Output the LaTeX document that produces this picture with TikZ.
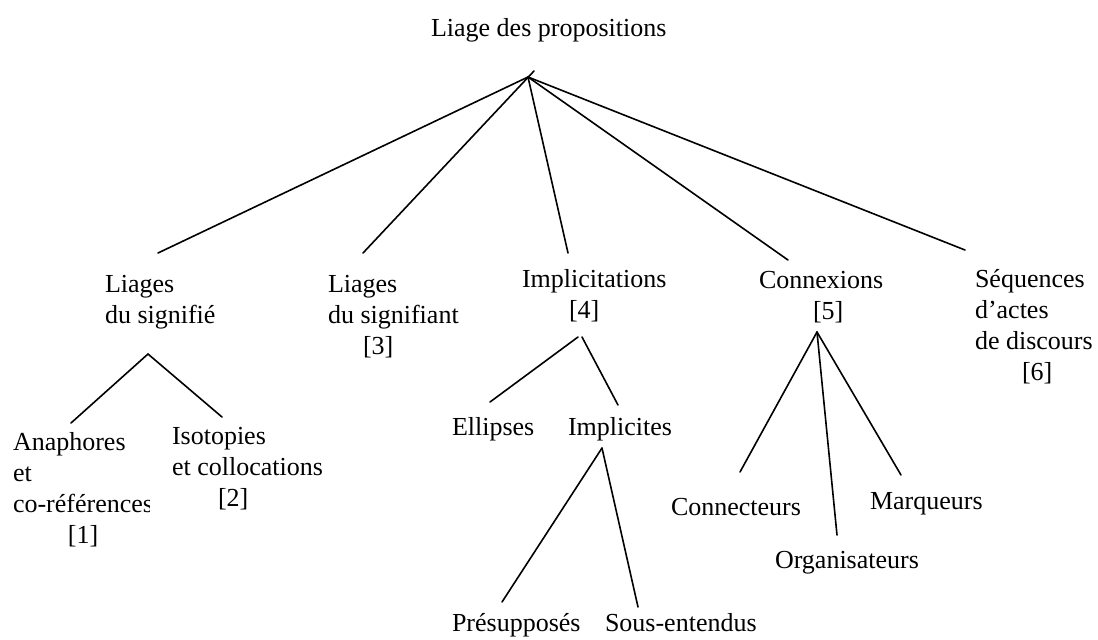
\documentclass[tikz,border=0pt]{standalone}
\usepackage{fontspec}
\setmainfont{Liberation Serif}
\begin{document}
\begin{tikzpicture}[x=0.5pt,y=-0.5pt,
  lbl/.style={inner sep=0pt,outer sep=0pt,anchor=base west,
    font=\fontsize{13}{15.5}\selectfont},
  branch/.style={line width=0.8pt,line cap=round}]
\useasboundingbox (0,0) rectangle (1098,639);

% labels
\node[lbl] (root) at (431,36) {Liage des propositions};
\node[lbl] (sig) at (105,292) {\begin{tabular}[t]{@{}l@{}}Liages\\du signifié\end{tabular}};
\node[lbl] (sigt) at (328,292) {\begin{tabular}[t]{@{}l@{}}Liages\\du signifiant\\\hspace*{17.5pt}[3]\end{tabular}};
\node[lbl] (impl) at (522,287) {\begin{tabular}[t]{@{}l@{}}Implicitations\\\hspace*{23.5pt}[4]\end{tabular}};
\node[lbl] (conn) at (759,288) {\begin{tabular}[t]{@{}l@{}}Connexions\\\hspace*{27pt}[5]\end{tabular}};
\node[lbl] (seq) at (975,287) {\begin{tabular}[t]{@{}l@{}}Séquences\\d’actes\\de discours\\\hspace*{23.5pt}[6]\end{tabular}};
\begin{scope}
  % the last letter of this label is cut by its text frame
  \clip (0,400) rectangle (149,600);
  \node[lbl] (ana) at (13,450) {\begin{tabular}[t]{@{}l@{}}Anaphores\\et\\co-références\\\hspace*{27.5pt}[1]\end{tabular}};
\end{scope}
\node[lbl] (iso) at (172,444) {\begin{tabular}[t]{@{}l@{}}Isotopies\\et collocations\\\hspace*{23pt}[2]\end{tabular}};
\node[lbl] (ell) at (452,435) {Ellipses};
\node[lbl] (impc) at (568,435) {Implicites};
\node[lbl] (pre) at (452,631) {Présupposés};
\node[lbl] (sous) at (605,631) {Sous-entendus};
\node[lbl] (cnt) at (671,515) {Connecteurs};
\node[lbl] (org) at (775,568) {Organisateurs};
\node[lbl] (mar) at (870,509) {Marqueurs};

% branch points and branch ends
\coordinate (rootapex) at (528,77);
\coordinate (roottick) at (534,71);
\coordinate (sigtop) at (158,253);
\coordinate (sigttop) at (363,253);
\coordinate (impltop) at (568,253);
\coordinate (conntop) at (788,260);
\coordinate (seqtop) at (965,250);

\coordinate (sigapex) at (148,354);
\coordinate (anatop) at (71,423);
\coordinate (isotop) at (222,417);

\coordinate (implapexl) at (578,337);
\coordinate (implapexr) at (582,337);
\coordinate (elltop) at (490,402);
\coordinate (impctop) at (618,405);

\coordinate (impcapex) at (602,448);
\coordinate (pretop) at (502,602);
\coordinate (soustop) at (638,607);

\coordinate (connapex) at (817,332);
\coordinate (cnttop) at (740,472);
\coordinate (orgtop) at (837,535);
\coordinate (martop) at (901,475);

% connectors
\draw[branch] (rootapex) -- (sigtop);
\draw[branch] (roottick) -- (sigttop);
\draw[branch] (rootapex) -- (impltop);
\draw[branch] (rootapex) -- (conntop);
\draw[branch] (rootapex) -- (seqtop);

\draw[branch] (sigapex) -- (anatop);
\draw[branch] (sigapex) -- (isotop);

\draw[branch] (implapexl) -- (elltop);
\draw[branch] (implapexr) -- (impctop);

\draw[branch] (impcapex) -- (pretop);
\draw[branch] (impcapex) -- (soustop);

\draw[branch] (connapex) -- (cnttop);
\draw[branch] (connapex) -- (orgtop);
\draw[branch] (connapex) -- (martop);
\end{tikzpicture}
\end{document}
